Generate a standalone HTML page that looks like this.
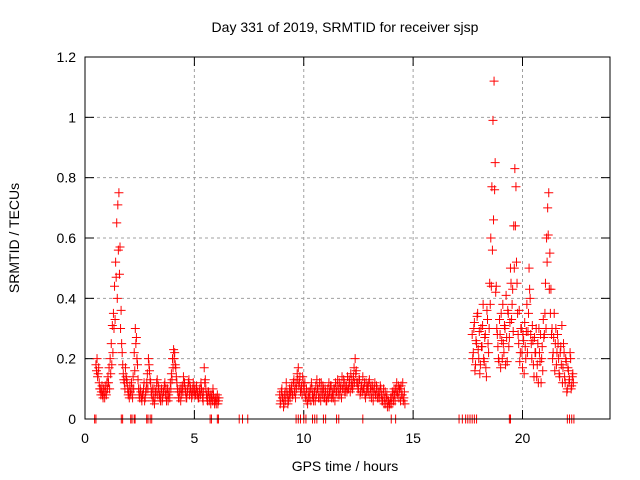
<!DOCTYPE html>
<html><head><meta charset="utf-8"><style>
body{margin:0;background:#fff}
svg{display:block;font-family:"Liberation Sans",sans-serif}
</style></head><body>
<svg id="chart" width="640" height="480" viewBox="0 0 640 480">
<rect width="640" height="480" fill="#fff"/>
<text x="345" y="32" font-size="14" text-anchor="middle">Day 331 of 2019, SRMTID for receiver sjsp</text>
<text x="345" y="471" font-size="14" text-anchor="middle">GPS time / hours</text>
<text transform="translate(19,238) rotate(-90)" font-size="14" text-anchor="middle">SRMTID / TECUs</text>
<g id="grid"></g><g id="ticks"></g><g id="marks"></g>
<rect x="85" y="57" width="525" height="362" fill="none" stroke="#000" stroke-width="1"/>
</svg>
<script>
const xTicks=[0,5,10,15,20];
const yTicks=[0,0.2,0.4,0.6,0.8,1,1.2];
const seg1Start=0.5, seg2Start=8.9, seg3Start=17.7, step=0.05;
const seg1A=[0.18,0.2,0.15,0.12,0.1,0.09,0.08,0.1,0.07,0.09,0.12,0.14,0.17,0.2,0.25,0.31,0.35,0.44,0.52,0.65,0.71,0.75,0.57,0.36,0.22,0.15,0.12,0.17,0.13,0.1,0.09,0.11,0.08,0.1,0.14,0.22,0.3,0.27,0.18,0.1,0.07,0.09,0.06,0.08,0.12,0.07,0.1,0.15,0.2,0.16,0.12,0.08,0.06,0.1,0.07,0.09,0.13,0.11,0.08,0.06,0.1,0.07,0.09,0.12,0.1,0.08,0.06,0.09,0.12,0.15,0.2,0.23,0.22,0.17,0.12,0.09,0.07,0.1,0.08,0.11,0.14,0.12,0.09,0.07,0.1,0.13,0.11,0.09,0.08,0.12,0.1,0.08,0.11,0.09,0.07,0.1,0.12,0.09,0.06,0.17,0.13,0.08,0.06,0.09,0.07,0.05,0.08,0.1,0.06,0.07,0.05,0.08,0.06];
const seg1B=[0.16,0.14,0.17,0.1,0.08,0.11,0.07,0.09,0.11,0.08,0.1,0.12,0.1,0.15,0.18,0.22,0.3,0.33,0.47,0.4,0.56,0.48,0.3,0.25,0.18,0.13,0.1,0.14,0.12,0.08,0.07,0.09,0.12,0.07,0.1,0.16,0.25,0.2,0.13,0.08,0.1,0.07,0.08,0.1,0.06,0.09,0.12,0.1,0.18,0.13,0.09,0.1,0.07,0.05,0.09,0.12,0.08,0.1,0.07,0.09,0.06,0.09,0.11,0.08,0.06,0.1,0.08,0.07,0.1,0.13,0.17,0.2,0.18,0.14,0.1,0.07,0.09,0.06,0.1,0.09,0.12,0.1,0.07,0.09,0.12,0.08,0.1,0.07,0.1,0.09,0.08,0.1,0.08,0.07,0.09,0.08,0.1,0.07,0.09,0.12,0.1,0.07,0.09,0.06,0.08,0.07,0.06,0.08,0.05,0.06,0.07,0.05,0.07];
const seg2A=[0.08,0.06,0.1,0.07,0.05,0.09,0.12,0.08,0.06,0.1,0.09,0.11,0.08,0.13,0.1,0.12,0.15,0.17,0.12,0.09,0.11,0.14,0.1,0.12,0.08,0.06,0.09,0.07,0.1,0.12,0.08,0.06,0.09,0.11,0.13,0.1,0.07,0.09,0.12,0.08,0.1,0.07,0.09,0.06,0.1,0.12,0.08,0.11,0.09,0.07,0.1,0.12,0.09,0.13,0.1,0.08,0.11,0.14,0.1,0.12,0.09,0.11,0.14,0.1,0.12,0.15,0.13,0.11,0.17,0.2,0.16,0.12,0.1,0.13,0.09,0.11,0.14,0.1,0.08,0.12,0.1,0.09,0.13,0.1,0.07,0.11,0.09,0.12,0.08,0.1,0.07,0.09,0.11,0.08,0.06,0.1,0.07,0.05,0.08,0.06,0.04,0.05,0.07,0.09,0.06,0.08,0.1,0.12,0.09,0.07,0.1,0.11,0.08,0.06,0.09];
const seg2B=[0.05,0.09,0.07,0.04,0.08,0.06,0.09,0.05,0.08,0.07,0.1,0.08,0.12,0.09,0.07,0.1,0.13,0.11,0.14,0.1,0.08,0.12,0.09,0.07,0.1,0.05,0.07,0.09,0.06,0.1,0.07,0.09,0.06,0.08,0.1,0.07,0.12,0.06,0.09,0.11,0.07,0.1,0.06,0.08,0.07,0.09,0.11,0.07,0.08,0.1,0.06,0.09,0.11,0.08,0.12,0.1,0.07,0.1,0.13,0.09,0.11,0.09,0.1,0.13,0.09,0.11,0.1,0.14,0.12,0.15,0.12,0.1,0.13,0.08,0.11,0.09,0.1,0.12,0.07,0.09,0.11,0.12,0.08,0.11,0.09,0.06,0.1,0.08,0.11,0.07,0.09,0.07,0.1,0.06,0.08,0.05,0.09,0.07,0.04,0.06,0.05,0.07,0.05,0.08,0.1,0.06,0.09,0.08,0.11,0.1,0.06,0.08,0.12,0.07,0.05];
const seg3A=[0.28,0.22,0.32,0.18,0.25,0.35,0.2,0.15,0.3,0.24,0.38,0.19,0.28,0.14,0.33,0.22,0.45,0.6,0.77,0.99,1.12,0.85,0.44,0.28,0.2,0.33,0.17,0.26,0.38,0.22,0.3,0.41,0.19,0.35,0.27,0.5,0.33,0.43,0.64,0.83,0.77,0.45,0.28,0.36,0.22,0.3,0.17,0.26,0.32,0.2,0.38,0.29,0.5,0.4,0.25,0.31,0.18,0.27,0.22,0.14,0.25,0.3,0.19,0.12,0.24,0.33,0.28,0.45,0.6,0.7,0.75,0.55,0.43,0.3,0.22,0.35,0.25,0.18,0.28,0.2,0.14,0.24,0.31,0.17,0.22,0.12,0.19,0.1,0.16,0.13,0.2,0.11,0.15];
const seg3B=[0.2,0.3,0.16,0.26,0.34,0.23,0.29,0.18,0.24,0.31,0.2,0.27,0.17,0.36,0.25,0.3,0.38,0.44,0.56,0.66,0.76,0.42,0.3,0.24,0.19,0.28,0.35,0.2,0.25,0.31,0.18,0.27,0.36,0.24,0.32,0.45,0.38,0.29,0.5,0.64,0.52,0.35,0.25,0.19,0.3,0.22,0.28,0.15,0.24,0.29,0.22,0.35,0.43,0.28,0.2,0.26,0.14,0.22,0.3,0.18,0.12,0.22,0.28,0.2,0.16,0.27,0.35,0.3,0.52,0.61,0.43,0.35,0.28,0.2,0.27,0.16,0.3,0.22,0.25,0.15,0.22,0.18,0.12,0.25,0.14,0.2,0.09,0.17,0.12,0.22,0.1,0.14,0.12];
const zeroTimes=[0.44,0.5,1.66,1.72,2.09,2.15,2.25,2.29,2.82,2.88,2.98,3.05,5.72,5.78,6.05,6.1,7.05,7.2,7.44,9.65,9.75,9.85,10.0,10.1,10.4,10.5,10.6,10.9,11.0,11.5,11.6,12.7,14.0,14.2,17.1,17.25,17.4,17.5,17.6,17.7,17.8,17.9,19.4,19.45,22.05,22.15,22.25,22.35];

const NS='http://www.w3.org/2000/svg';
const xs=t=>85+t*(525/24);
const ys=v=>419-v*(362/1.2);
function mk(tag,attrs,parent){const e=document.createElementNS(NS,tag);for(const k in attrs)e.setAttribute(k,attrs[k]);parent.appendChild(e);return e;}
const grid=document.getElementById('grid'),ticks=document.getElementById('ticks'),marks=document.getElementById('marks');
xTicks.forEach(t=>{
  const x=xs(t);
  if(t>0){const g=mk('line',{x1:x,x2:x,y1:57,y2:419,stroke:'#a0a0a0','stroke-dasharray':'3,3'},grid);
  
  }
  mk('line',{x1:x,x2:x,y1:419,y2:410,stroke:'#000'},ticks);
  mk('line',{x1:x,x2:x,y1:57,y2:66,stroke:'#000'},ticks);
  const l=mk('text',{x:x,y:443,'font-size':14,'text-anchor':'middle'},ticks);
  l.textContent=t;
  
  
});
yTicks.forEach(v=>{
  const y=ys(v);
  if(v>0&&v<1.2){const g=mk('line',{x1:85,x2:610,y1:y,y2:y,stroke:'#a0a0a0','stroke-dasharray':'3,3'},grid);
  
  }
  mk('line',{x1:85,x2:94,y1:y,y2:y,stroke:'#000'},ticks);
  mk('line',{x1:601,x2:610,y1:y,y2:y,stroke:'#000'},ticks);
  const l=mk('text',{x:76,y:y+5,'font-size':14,'text-anchor':'end'},ticks);
  l.textContent=v;
  
  
});
function plus(t,v,color){
  const x=xs(t),y=ys(v);
  const p=mk('path',{d:`M${x-4.5},${y}h9M${x},${y-4.5}v9`,stroke:color,'stroke-width':1,fill:'none'},marks);
  
  
}
[[seg1Start,seg1A,seg1B],[seg2Start,seg2A,seg2B],[seg3Start,seg3A,seg3B]].forEach(([s,A,B])=>{
  B.forEach((v,i)=>plus(s+i*step+0.025,v,'#f00'));
  A.forEach((v,i)=>plus(s+i*step,v,'#f00'));
});
zeroTimes.forEach(t=>plus(t,0,'#f00'));
</script>
</body></html>
